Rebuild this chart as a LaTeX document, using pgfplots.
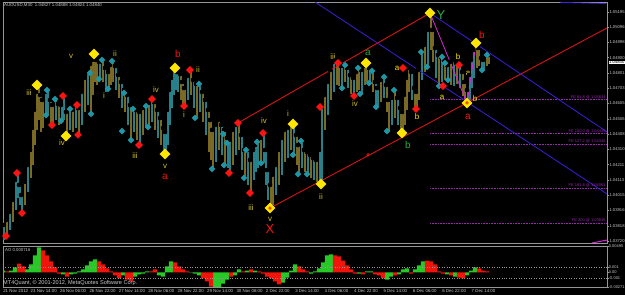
\documentclass[border=0pt]{standalone}
\usepackage{pgfplots}
\pgfplotsset{compat=1.18}
\usepackage{pgfplotstable}
\usepackage{fontspec}
\setmainfont{Liberation Sans}
\definecolor{frame}{RGB}{150,150,150}
\definecolor{lgray}{RGB}{200,200,200}
\definecolor{olv}{RGB}{120,104,36}
\definecolor{tl}{RGB}{40,130,140}
\definecolor{dtl}{RGB}{30,150,165}
\definecolor{ylw}{RGB}{255,230,0}
\definecolor{rdd}{RGB}{250,20,20}
\definecolor{lblY}{RGB}{205,190,40}
\definecolor{grn}{RGB}{40,170,60}
\definecolor{chred}{RGB}{235,20,20}
\definecolor{chblue}{RGB}{60,30,220}
\definecolor{mag}{RGB}{215,40,215}
\definecolor{fe}{RGB}{150,40,170}
\definecolor{aog}{RGB}{40,200,40}
\definecolor{aor}{RGB}{240,20,10}
\newcommand{\wsm}{\fontsize{8}{8}\selectfont}
\newcommand{\wmd}{\fontsize{10}{10}\selectfont}
\newcommand{\wlg}{\fontsize{13}{13}\selectfont}
\newcommand{\wfs}{\fontsize{4}{4}\selectfont}

\pgfplotstableread{
x hi lo
3 1.03823 1.03726
6 1.03855 1.03746
9 1.03907 1.03791
12 1.03984 1.03842
15 1.04113 1.03920
17 1.04158 1.03997
19 1.04081 1.03952
21 1.04016 1.03900
24 1.04100 1.03952
27 1.04209 1.04036
30 1.04306 1.04126
32 1.04448 1.04209
34 1.04564 1.04338
36 1.04680 1.04435
38 1.04725 1.04499
40 1.04660 1.04422
42 1.04628 1.04448
45 1.04680 1.04512
47 1.04692 1.04531
50 1.04628 1.04467
52 1.04596 1.04461
55 1.04641 1.04499
58 1.04602 1.04467
61 1.04596 1.04486
63 1.04654 1.04499
66 1.04551 1.04396
69 1.04576 1.04435
72 1.04564 1.04422
75 1.04596 1.04448
78 1.04576 1.04403
81 1.04680 1.04467
84 1.04770 1.04551
87 1.04808 1.04596
90 1.04860 1.04531
92 1.04886 1.04660
94 1.04924 1.04744
96 1.04886 1.04725
99 1.04873 1.04757
102 1.04886 1.04744
105 1.04834 1.04680
108 1.04808 1.04692
110 1.04853 1.04725
112 1.04879 1.04744
115 1.04847 1.04692
118 1.04789 1.04641
121 1.04744 1.04576
124 1.04692 1.04551
127 1.04660 1.04467
130 1.04596 1.04370
133 1.04576 1.04422
136 1.04564 1.04370
139 1.04551 1.04338
142 1.04576 1.04403
145 1.04602 1.04448
148 1.04609 1.04454
151 1.04634 1.04486
154 1.04615 1.04435
157 1.04564 1.04383
160 1.04512 1.04338
163 1.04448 1.04306
165 1.04422 1.04280
167 1.04564 1.04338
169 1.04692 1.04467
171 1.04770 1.04576
173 1.04821 1.04660
175 1.04834 1.04692
177 1.04808 1.04680
180 1.04795 1.04628
182 1.04744 1.04602
184 1.04705 1.04589
187 1.04783 1.04628
190 1.04821 1.04660
193 1.04757 1.04576
196 1.04731 1.04512
199 1.04731 1.04551
202 1.04680 1.04486
205 1.04628 1.04403
208 1.04564 1.04293
210 1.04499 1.04242
212 1.04435 1.04177
215 1.04467 1.04229
218 1.04499 1.04306
221 1.04467 1.04274
224 1.04435 1.04209
227 1.04383 1.04190
229 1.04370 1.04158
232 1.04435 1.04209
235 1.04467 1.04274
238 1.04480 1.04306
241 1.04403 1.04177
244 1.04306 1.04126
247 1.04306 1.04081
250 1.04242 1.04029
253 1.04306 1.04113
255 1.04338 1.04164
257 1.04358 1.04190
260 1.04383 1.04209
263 1.04415 1.04222
265 1.04306 1.04081
267 1.04177 1.03984
270 1.04081 1.03932
272 1.04145 1.03952
275 1.04209 1.04016
278 1.04306 1.04081
281 1.04383 1.04145
284 1.04435 1.04229
287 1.04448 1.04254
290 1.04467 1.04306
293 1.04473 1.04274
296 1.04403 1.04209
298 1.04338 1.04151
301 1.04364 1.04190
304 1.04306 1.04164
307 1.04293 1.04151
310 1.04274 1.04126
313 1.04254 1.04113
316 1.04242 1.04100
319 1.04306 1.04087
321 1.04583 1.04087
324 1.04660 1.04435
327 1.04744 1.04531
330 1.04821 1.04628
333 1.04873 1.04680
336 1.04886 1.04725
338 1.04866 1.04718
341 1.04847 1.04705
344 1.04853 1.04744
347 1.04834 1.04705
350 1.04789 1.04667
353 1.04770 1.04654
356 1.04808 1.04680
358 1.04834 1.04692
361 1.04821 1.04667
364 1.04847 1.04725
366 1.04866 1.04744
369 1.04834 1.04737
372 1.04815 1.04680
375 1.04744 1.04596
377 1.04705 1.04583
380 1.04757 1.04615
383 1.04776 1.04641
386 1.04725 1.04551
388 1.04628 1.04428
391 1.04641 1.04467
394 1.04692 1.04512
397 1.04641 1.04467
400 1.04576 1.04435
402 1.04551 1.04415
404 1.04660 1.04467
406 1.04770 1.04564
408 1.04834 1.04680
411 1.04808 1.04628
414 1.04705 1.04576
416 1.04680 1.04570
418 1.04821 1.04628
421 1.04937 1.04757
424 1.04982 1.04808
427 1.05079 1.04841
430 1.05188 1.04950
432 1.05079 1.04873
435 1.04963 1.04770
438 1.04918 1.04718
441 1.04905 1.04744
444 1.04886 1.04757
447 1.04853 1.04744
450 1.04873 1.04725
453 1.04886 1.04718
456 1.04866 1.04731
459 1.04853 1.04705
462 1.04808 1.04654
464 1.04744 1.04628
467 1.04692 1.04609
469 1.04789 1.04628
471 1.04886 1.04705
473 1.04950 1.04770
476 1.04995 1.04834
478 1.04963 1.04847
481 1.04898 1.04808
483 1.04886 1.04821
486 1.04924 1.04847
488 1.04918 1.04860
}\bars

\pgfplotstableread{
x y
37 1.04725
66 1.04396
94 1.04924
165 1.04280
175 1.04834
270 1.03932
293 1.04473
321 1.04087
366 1.04866
402 1.04415
430 1.05188
467 1.04609
476 1.04995
}\yel

\pgfplotstableread{
x y
6 1.03752
17 1.04158
22 1.03900
52 1.04467
63 1.04654
77 1.04596
78 1.04403
139 1.04338
152 1.04634
184 1.04589
190 1.04821
229 1.04158
238 1.04480
250 1.04029
263 1.04415
320 1.04583
338 1.04866
354 1.04654
403 1.04834
416 1.04570
443 1.04718
459 1.04853
}\red

\pgfplotstableread{
x y
46 1.04531
47 1.04692
55 1.04634
61 1.04493
70 1.04570
90 1.04802
91 1.04538
99 1.04763
102 1.04886
108 1.04699
112 1.04879
122 1.04428
124 1.04673
131 1.04370
133 1.04570
146 1.04589
148 1.04454
195 1.04512
199 1.04731
212 1.04184
223 1.04409
224 1.04209
227 1.04351
244 1.04126
246 1.04306
257 1.04358
261 1.04222
293 1.04274
298 1.04151
301 1.04364
307 1.04151
342 1.04705
345 1.04853
358 1.04834
360 1.04667
369 1.04737
372 1.04815
376 1.04583
384 1.04776
387 1.04428
394 1.04692
421 1.04937
427 1.04841
439 1.04718
442 1.04905
445 1.04866
448 1.04757
482 1.04821
487 1.04918
}\tealpts

\begin{document}
\begin{tikzpicture}
\fill[black] (0bp,0bp) rectangle (625bp,295bp);
% ---------------- main price panel ----------------
\begin{axis}[
 at={(3bp,52bp)}, anchor=south west,
 scale only axis, width=604bp, height=241bp,
 xmin=3, xmax=607, ymin=1.03707, ymax=1.05259,
 axis background/.style={fill=black},
 axis line style={draw=frame, line width=0.8bp},
 xtick=\empty,
 scaled y ticks=false,
 ytick={1.03720,1.03818,1.03916,1.04015,1.04113,1.04211,1.04310,1.04408,1.04506,1.04605,1.04703,1.04801,1.04900,1.04998,1.05096,1.05195},
 yticklabels={1.03720,1.03818,1.03916,1.04015,1.04113,1.04211,1.04310,1.04408,1.04506,1.04605,1.04703,1.04801,1.04900,1.04998,1.05096,1.05195},
 ytick pos=right, yticklabel pos=right,
 tick align=outside, major tick length=2bp,
 ytick style={draw=frame, line width=0.5bp},
 yticklabel style={font=\fontsize{4.2}{5}\selectfont, text=lgray, anchor=west, inner sep=0.3bp},
]
% price bars
\addplot[only marks, mark=none, error bars/.cd, y dir=minus, y explicit, error mark=none,
  error bar style={line width=0.9bp, draw=olv}]
  table[x=x, y=hi, y error expr=\thisrow{hi}-\thisrow{lo}] {\bars};
\addplot[only marks, mark=none, error bars/.cd, y dir=minus, y explicit, error mark=none,
  error bar style={line width=0.6bp, draw=tl, xshift=1.3bp}]
  table[x=x, y=hi, y error expr=\thisrow{hi}-\thisrow{lo}] {\bars};
% Fibonacci expansion levels
\addplot[fe, densely dotted, line width=0.6bp] coordinates {(430,1.04634) (607,1.04634)};
\addplot[fe, densely dotted, line width=0.6bp] coordinates {(430,1.04415) (607,1.04415)};
\addplot[fe, densely dotted, line width=0.6bp] coordinates {(430,1.04345) (607,1.04345)};
\addplot[fe, densely dotted, line width=0.6bp] coordinates {(430,1.04061) (607,1.04061)};
\addplot[fe, densely dotted, line width=0.6bp] coordinates {(430,1.03836) (607,1.03836)};
% channels
\addplot[chred, line width=0.8bp] coordinates {(238,1.04480) (430,1.05188)};
\addplot[chred, line width=0.8bp] coordinates {(270,1.03932) (607,1.05092)};
\addplot[chblue, line width=0.8bp] coordinates {(315,1.05259) (607,1.04023)};
\addplot[chblue, line width=0.8bp] coordinates {(430,1.05188) (607,1.04422)};
\addplot[chblue, line width=0.8bp] coordinates {(560,1.05257) (606,1.05249)};
\addplot[mag, line width=0.8bp] coordinates {(430,1.05188) (467,1.04609) (476,1.04995)};
\addplot[mag, line width=1bp] coordinates {(592,1.03707) (607,1.03726)};
% fractal diamonds
\addplot[only marks, mark=square*, mark size=2.1bp, mark options={rotate=45, fill=dtl, draw=dtl}] table {\tealpts};
\addplot[only marks, mark=square*, mark size=2.5bp, mark options={rotate=45, fill=rdd, draw=rdd}] table {\red};
\addplot[only marks, mark=square*, mark size=3.6bp, mark options={rotate=45, fill=ylw, draw=ylw}] table {\yel};
\addplot[only marks, mark=o, mark size=1.3bp, mark options={draw=rdd, line width=0.6bp}] coordinates {(270,1.03932) (467,1.04609) (368,1.04274)};
% wave labels
\node[inner sep=0pt, text=lblY, font=\wsm] at (axis cs:29,1.04673) {iii};
\node[inner sep=0pt, text=lblY, font=\wsm] at (axis cs:71,1.04911) {v};
\node[inner sep=0pt, text=lblY, font=\wsm] at (axis cs:115,1.04924) {ii};
\node[inner sep=0pt, text=lblY, font=\wsm] at (axis cs:104,1.04654) {i};
\node[inner sep=0pt, text=lblY, font=\wsm] at (axis cs:156,1.04692) {iv};
\node[inner sep=0pt, text=rdd, font=\wmd] at (axis cs:178,1.04924) {b};
\node[inner sep=0pt, text=lblY, font=\wsm] at (axis cs:198,1.04821) {ii};
\node[inner sep=0pt, text=lblY, font=\wsm] at (axis cs:62,1.04351) {iv};
\node[inner sep=0pt, text=lblY, font=\wsm] at (axis cs:135,1.04267) {iii};
\node[inner sep=0pt, text=lblY, font=\wsm] at (axis cs:165,1.04203) {v};
\node[inner sep=0pt, text=rdd, font=\wmd] at (axis cs:165,1.04132) {a};
\node[inner sep=0pt, text=lblY, font=\wsm] at (axis cs:184,1.04531) {i};
\node[inner sep=0pt, text=lblY, font=\wsm] at (axis cs:264,1.04493) {iv};
\node[inner sep=0pt, text=lblY, font=\wsm] at (axis cs:288,1.04538) {i};
\node[inner sep=0pt, text=lblY, font=\wsm] at (axis cs:251,1.03932) {iii};
\node[inner sep=0pt, text=lblY, font=\wsm] at (axis cs:270,1.03862) {v};
\node[inner sep=0pt, text=rdd, font=\wlg] at (axis cs:270,1.03797) {X};
\node[inner sep=0pt, text=lblY, font=\wsm] at (axis cs:321,1.04003) {ii};
\node[inner sep=0pt, text=lblY, font=\wsm] at (axis cs:333,1.04905) {iii};
\node[inner sep=0pt, text=grn, font=\wmd] at (axis cs:368,1.04931) {a};
\node[inner sep=0pt, text=lblY, font=\wsm] at (axis cs:355,1.04602) {iv};
\node[inner sep=0pt, text=ylw, font=\wsm] at (axis cs:397,1.04834) {a};
\node[inner sep=0pt, text=grn, font=\wmd] at (axis cs:408,1.04338) {b};
\node[inner sep=0pt, text=grn, font=\wlg] at (axis cs:441,1.05175) {Y};
\node[inner sep=0pt, text=ylw, font=\wsm] at (axis cs:458,1.04905) {b};
\node[inner sep=0pt, text=ylw, font=\wsm] at (axis cs:468,1.04802) {a};
\node[inner sep=0pt, text=ylw, font=\wsm] at (axis cs:442,1.04647) {a};
\node[inner sep=0pt, text=ylw, font=\wsm] at (axis cs:475,1.04634) {b};
\node[inner sep=0pt, text=rdd, font=\wmd] at (axis cs:482,1.05047) {b};
\node[inner sep=0pt, text=rdd, font=\wmd] at (axis cs:468,1.04519) {a};
\node[inner sep=0pt, text=ylw, font=\wsm] at (axis cs:417,1.04519) {b};
\node[inner sep=0.3bp, text=fe, font=\wfs, anchor=south east] at (axis cs:606,1.04634) {FE 61.8 @ 1.04634};
\node[inner sep=0.3bp, text=fe, font=\wfs, anchor=south east] at (axis cs:606,1.04415) {FE 100.0 @ 1.04415};
\node[inner sep=0.3bp, text=fe, font=\wfs, anchor=south east] at (axis cs:606,1.04345) {FE 127.2 @ 1.04345};
\node[inner sep=0.3bp, text=fe, font=\wfs, anchor=south east] at (axis cs:606,1.04061) {FE 161.8 @ 1.04061};
\node[inner sep=0.3bp, text=fe, font=\wfs, anchor=south east] at (axis cs:606,1.03836) {FE 200 @ 1.03836};
\end{axis}
% ---------------- AO panel ----------------
\begin{axis}[
 at={(3bp,8bp)}, anchor=south west,
 scale only axis, width=604bp, height=41bp,
 xmin=3, xmax=607, ymin=-0.00271, ymax=0.00495,
 axis background/.style={fill=black},
 axis line style={draw=frame, line width=0.8bp},
 scaled y ticks=false,
 xtick={3,30.4,59.8,89.2,118.6,148,177.4,206.8,236.2,265.6,295,324.4,353.8,383.2,412.6,442,471.4},
 xticklabels={21 Nov 2012,23 Nov 14:00,26 Nov 06:00,26 Nov 22:00,27 Nov 14:00,28 Nov 06:00,28 Nov 22:00,29 Nov 14:00,30 Nov 06:00,2 Dec 22:00,3 Dec 14:00,4 Dec 06:00,4 Dec 22:00,5 Dec 14:00,6 Dec 06:00,6 Dec 22:00,7 Dec 14:00},
 xtick pos=left,
 xticklabel style={font=\fontsize{4.4}{5}\selectfont, text=lgray, anchor=north west, inner sep=0.6bp, xshift=-0.5bp},
 ytick={-0.00271,-0.001,0,0.001,0.00495},
 yticklabels={-0.00271,-0.001,0.00,0.001,0.00495},
 ytick pos=right, yticklabel pos=right,
 tick align=outside, major tick length=1.5bp,
 tick style={draw=frame, line width=0.5bp},
 yticklabel style={font=\fontsize{4}{5}\selectfont, text=lgray, anchor=west, inner sep=0.2bp},
]
\addplot[ybar, bar width=4.1, bar shift=0pt, fill=aog, draw=none] coordinates {
(3,0.00037) (11,0.00037) (15,0.00094) (27,0.00056) (31,0.0015) (35,0.00318) (39,0.00468)
(63,-0.00037) (71,-0.00037) (75,-0.00019) (79,0.00019) (83,0.00056) (87,0.00131) (91,0.00206) (95,0.00243)
(123,-0.00056) (135,-0.00075) (139,-0.00037) (143,-0.00019) (147,0.00019) (159,-0.00056) (163,-0.00075) (167,0.00112) (171,0.00206)
(191,0.00005) (195,-0.00019) (199,-0.00056) (215,-0.00374) (219,-0.003) (223,-0.00206) (227,-0.00131)
(235,-0.00056) (239,0.00056) (247,0.00037) (255,0.00037) (283,-0.00187) (287,-0.00094) (291,0.00037) (295,0.0015)
(311,-0.00019) (315,0.00019) (319,0.00075) (323,0.00187) (327,0.00318) (331,0.00337)
(359,-0.00019) (367,0.00019) (371,0.00019) (387,-0.00131) (391,-0.00075) (399,-0.00037) (403,0.00056) (407,0.00075)
(415,0.00056) (419,0.00131) (423,0.00206) (447,-0.00037) (455,-0.00075) (467,-0.00056) (471,0.00037) (475,0.00094)
};
\addplot[ybar, bar width=4.1, bar shift=0pt, fill=aor, draw=none] coordinates {
(7,0.00019) (19,0.00168) (23,0.00112)
(43,0.00411) (47,0.00318) (51,0.00206) (55,0.00094) (59,-0.00019) (67,-0.00075)
(99,0.00206) (103,0.0015) (107,0.00075) (111,0.00019) (115,-0.00056) (119,-0.00112) (127,-0.00131) (131,-0.00168)
(151,0.00019) (155,0.00056) (175,0.00187) (179,0.00112) (183,0.00056) (187,0.00019)
(203,-0.00112) (207,-0.00168) (211,-0.00262) (231,-0.00075) (243,0.00019) (251,0.00056) (259,0.00019)
(263,-0.00019) (267,-0.00075) (271,-0.00112) (275,-0.00168) (279,-0.00224)
(299,0.00112) (303,0.00056) (307,0.00019)
(335,0.00318) (339,0.003) (343,0.00224) (347,0.00131) (351,0.00056) (355,-0.00019) (363,-0.00037)
(375,-0.00037) (379,-0.00056) (383,-0.00112) (395,-0.00056) (411,-0.00019)
(427,0.00224) (431,0.00206) (435,0.0015) (439,0.00019) (443,-0.00019) (451,-0.00056) (459,-0.00094) (463,-0.00112)
(479,0.00075) (483,0.00037) (487,0.00019)
};
\addplot[frame, dotted, line width=0.5bp] coordinates {(3,0.001) (607,0.001)};
\addplot[frame, dotted, line width=0.5bp] coordinates {(3,-0.001) (607,-0.001)};
\node[anchor=north west, text=lgray, font=\fontsize{4.3}{5}\selectfont, inner sep=0pt] at (axis cs:5,0.0046) {AO 0.000716};
\end{axis}
% ---------------- texts ----------------
\node[anchor=west, text=lgray, font=\fontsize{4.4}{5}\selectfont, inner sep=0pt] at (4bp,290bp) {AUDUSD,M30\ \ 1.04827 1.04888 1.04824 1.04840};
\node[anchor=west, text=lgray, font=\fontsize{5.6}{6}\selectfont, inner sep=0pt] at (3bp,12bp) {MT4Quant, © 2001-2012, MetaQuotes Software Corp.};
\node[anchor=west, fill=white, text=black, font=\fontsize{4.2}{5}\selectfont, inner sep=0.5bp] at (608.5bp,232.5bp) {1.04840};
\pgfresetboundingbox
\useasboundingbox (0bp,0bp) rectangle (625bp,295bp);
\end{tikzpicture}
\end{document}
